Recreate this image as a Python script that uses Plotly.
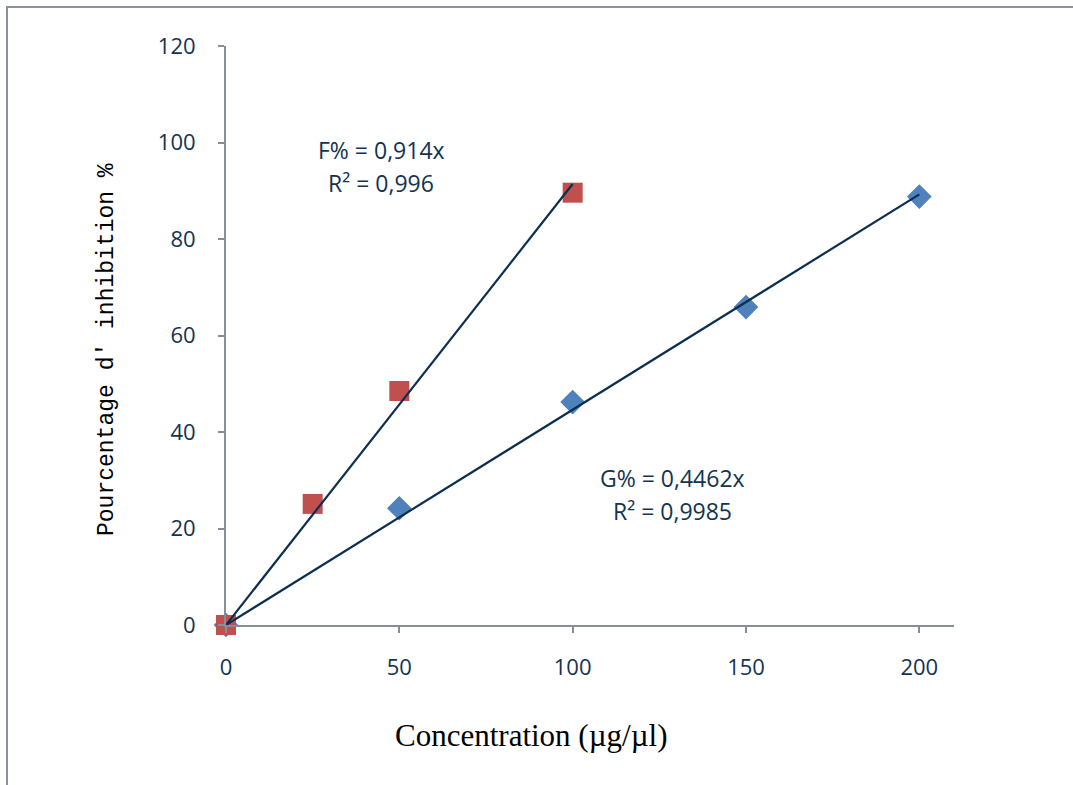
import plotly.graph_objects as go

# Data
f_x = [0, 25, 50, 100]
f_y = [0, 25.1, 48.5, 89.6]
g_x = [0, 50, 100, 150, 200]
g_y = [0, 24.2, 46.2, 65.9, 88.8]
f_slope = 0.914
g_slope = 0.4462
x_ticks = [0, 50, 100, 150, 200]
y_ticks = [0, 20, 40, 60, 80, 100, 120]

TXT = "#12344F"
AX = "#868E96"

fig = go.Figure()
fig.add_trace(go.Scatter(x=g_x, y=g_y, mode="markers", cliponaxis=False,
                         marker=dict(symbol="diamond", size=19, color="#4F81BD"),
                         showlegend=False))
fig.add_trace(go.Scatter(x=f_x, y=f_y, mode="markers", cliponaxis=False,
                         marker=dict(symbol="square", size=20, color="#C0504D"),
                         showlegend=False))
fig.add_trace(go.Scatter(x=[0, 100], y=[0, f_slope * 100], mode="lines", cliponaxis=False,
                         line=dict(color="#0C2F4F", width=2.2), showlegend=False))
fig.add_trace(go.Scatter(x=[0, 200], y=[0, g_slope * 200], mode="lines", cliponaxis=False,
                         line=dict(color="#0C2F4F", width=2.2), showlegend=False))

L, R, T, B = 226, 119, 46, 160
W, H = 1073, 785
pw, ph = W - L - R, H - T - B

def px(x):
    return (x - L) / pw

def py(y):
    return (H - B - y) / ph

fig.update_layout(
    width=W, height=H,
    margin=dict(l=L, r=R, t=T, b=B),
    plot_bgcolor="white", paper_bgcolor="white",
    xaxis=dict(range=[0, 210], tickvals=x_ticks, showgrid=False, zeroline=False,
               showline=True, linecolor=AX, linewidth=2, ticks="outside",
               ticklen=6, tickcolor=AX, tickwidth=2, ticklabelstandoff=16,
               tickfont=dict(family="Open Sans", size=22, color=TXT)),
    yaxis=dict(range=[0, 120], tickvals=y_ticks, showgrid=False, zeroline=False,
               showline=True, linecolor=AX, linewidth=2, ticks="outside",
               ticklen=6, tickcolor=AX, tickwidth=2, ticklabelstandoff=18,
               tickfont=dict(family="Open Sans", size=22, color=TXT)),
    shapes=[dict(type="rect", xref="paper", yref="paper",
                 x0=px(7), x1=px(1080), y0=py(7), y1=py(792),
                 line=dict(color="#8A9199", width=2), layer="below")],
)

ann = [
    dict(text="F% = 0,914x", x=px(381), y=py(150)),
    dict(text="R² = 0,996", x=px(381), y=py(183)),
    dict(text="G% = 0,4462x", x=px(672), y=py(478)),
    dict(text="R² = 0,9985", x=px(672), y=py(511)),
]
for a in ann:
    fig.add_annotation(xref="paper", yref="paper", showarrow=False,
                       xanchor="center", yanchor="middle",
                       font=dict(family="Open Sans", size=23, color=TXT), **a)

fig.add_annotation(xref="paper", yref="paper", x=px(531), y=py(735),
                   text="Concentration (µg/µl)", showarrow=False,
                   xanchor="center", yanchor="middle",
                   font=dict(family="Liberation Serif", size=31, color="black"))
fig.add_annotation(xref="paper", yref="paper", x=px(107), y=py(350),
                   text="Pourcentage d' inhibition %", showarrow=False, textangle=-90,
                   xanchor="center", yanchor="middle",
                   font=dict(family="Liberation Mono", size=23, color="black"))

fig.write_html("out.html")
